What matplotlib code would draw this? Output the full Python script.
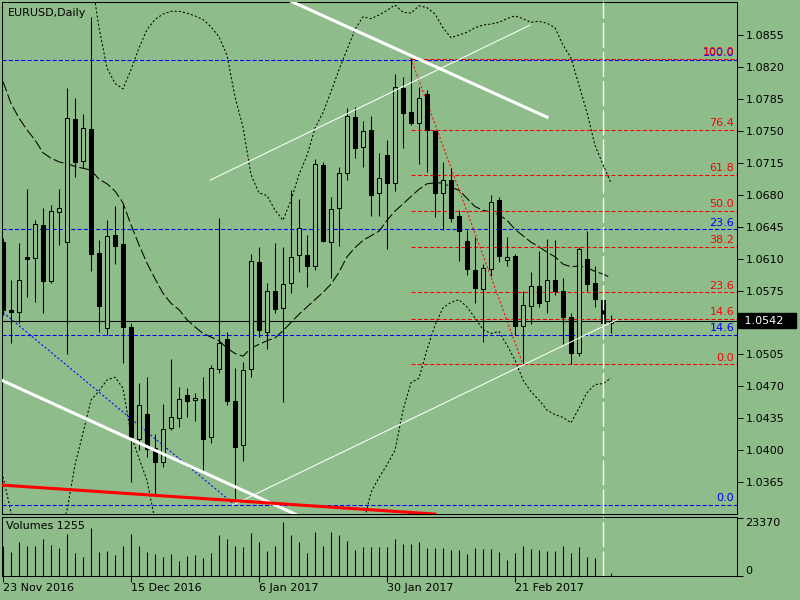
import matplotlib
matplotlib.use("Agg")
import matplotlib.pyplot as plt
import matplotlib.transforms as mtransforms

# EURUSD daily bars, 23 Nov 2016 .. 9 Mar 2017
opens = [
    1.0628, 1.0554, 1.0551, 1.0612, 1.0611, 1.0647, 1.0585, 1.0661, 1.0628, 1.0763,
    1.0717, 1.0752, 1.0616, 1.0534, 1.0636, 1.0626, 1.0535, 1.0412, 1.0440, 1.0402,
    1.0387, 1.0424, 1.0435, 1.0461, 1.0455, 1.0456, 1.0414, 1.0489, 1.0522, 1.0454,
    1.0406, 1.0489, 1.0606, 1.0530, 1.0575, 1.0556, 1.0583, 1.0614, 1.0614, 1.0602,
    1.0713, 1.0628, 1.0665, 1.0704, 1.0765, 1.0732, 1.0751, 1.0682, 1.0724, 1.0693,
    1.0797, 1.0771, 1.0759, 1.0790, 1.0750, 1.0682, 1.0696, 1.0657, 1.0629, 1.0598,
    1.0577, 1.0599, 1.0674, 1.0609, 1.0613, 1.0536, 1.0558, 1.0580, 1.0564, 1.0587,
    1.0575, 1.0546, 1.0506, 1.0610, 1.0583, 1.0565, 1.0539]
highs = [
    1.0633, 1.0587, 1.0627, 1.0686, 1.0652, 1.0665, 1.0669, 1.0686, 1.0797, 1.0786,
    1.0768, 1.0875, 1.0630, 1.0652, 1.0668, 1.0670, 1.0539, 1.0474, 1.0480, 1.0418,
    1.0451, 1.0500, 1.0469, 1.0468, 1.0463, 1.0480, 1.0493, 1.0654, 1.0530, 1.0490,
    1.0497, 1.0615, 1.0623, 1.0583, 1.0627, 1.0623, 1.0685, 1.0675, 1.0636, 1.0719,
    1.0716, 1.0677, 1.0710, 1.0775, 1.0776, 1.0761, 1.0766, 1.0726, 1.0740, 1.0812,
    1.0809, 1.0830, 1.0798, 1.0795, 1.0751, 1.0716, 1.0709, 1.0663, 1.0641, 1.0634,
    1.0604, 1.0680, 1.0677, 1.0634, 1.0615, 1.0574, 1.0595, 1.0618, 1.0632, 1.0630,
    1.0589, 1.0550, 1.0623, 1.0640, 1.0602, 1.0573, 1.0548]
lows = [
    1.0548, 1.0518, 1.0539, 1.0568, 1.0562, 1.0550, 1.0583, 1.0625, 1.0505, 1.0699,
    1.0709, 1.0596, 1.0530, 1.0526, 1.0604, 1.0496, 1.0365, 1.0400, 1.0393, 1.0350,
    1.0382, 1.0422, 1.0425, 1.0436, 1.0432, 1.0375, 1.0408, 1.0485, 1.0450, 1.0345,
    1.0388, 1.0480, 1.0524, 1.0511, 1.0550, 1.0453, 1.0572, 1.0595, 1.0579, 1.0598,
    1.0628, 1.0589, 1.0624, 1.0696, 1.0720, 1.0710, 1.0657, 1.0657, 1.0621, 1.0684,
    1.0731, 1.0756, 1.0714, 1.0705, 1.0656, 1.0641, 1.0650, 1.0607, 1.0592, 1.0561,
    1.0519, 1.0591, 1.0606, 1.0602, 1.0526, 1.0494, 1.0538, 1.0557, 1.0550, 1.0570,
    1.0516, 1.0494, 1.0503, 1.0575, 1.0557, 1.0534, 1.0528]
closes = [
    1.0554, 1.0552, 1.0587, 1.0610, 1.0648, 1.0585, 1.0662, 1.0665, 1.0764, 1.0716,
    1.0753, 1.0615, 1.0558, 1.0635, 1.0624, 1.0535, 1.0414, 1.0450, 1.0401, 1.0387,
    1.0423, 1.0436, 1.0456, 1.0454, 1.0457, 1.0412, 1.0490, 1.0518, 1.0454, 1.0404,
    1.0488, 1.0607, 1.0532, 1.0574, 1.0555, 1.0582, 1.0612, 1.0644, 1.0602, 1.0714,
    1.0629, 1.0664, 1.0704, 1.0766, 1.0731, 1.0750, 1.0680, 1.0698, 1.0693, 1.0798,
    1.0770, 1.0759, 1.0786, 1.0751, 1.0682, 1.0696, 1.0654, 1.0640, 1.0599, 1.0578,
    1.0600, 1.0672, 1.0613, 1.0612, 1.0536, 1.0559, 1.0580, 1.0561, 1.0587, 1.0574,
    1.0546, 1.0507, 1.0620, 1.0582, 1.0566, 1.0539, 1.0542]
volumes = [
    12090, 9790, 13700, 12090, 12090, 14910, 12490, 11280, 16930, 9270,
    7660, 19220, 9670, 10080, 8460, 12090, 16930, 12090, 9670, 8870,
    7660, 8870, 6050, 8060, 8460, 7250, 9270, 16520, 14910, 12090,
    11690, 17330, 13700, 10080, 12090, 21760, 16520, 13700, 9270, 17730,
    12090, 17730, 16520, 14100, 10480, 11690, 11690, 11690, 11690, 14910,
    12900, 12900, 13700, 11280, 11280, 11280, 10480, 10480, 8870, 11280,
    10880, 10880, 9670, 6450, 9270, 12090, 10880, 10480, 10080, 10080,
    12090, 9270, 11690, 7660, 7250, 8460, 1255]

# Bollinger bands
bb_upper = [
    1.1010, 1.1000, 1.0990, 1.0980, 1.0975, 1.0965, 1.0955, 1.0950, 1.0945, 1.0940,
    1.0935, 1.0921, 1.0863, 1.0819, 1.0802, 1.0796, 1.0817, 1.0841, 1.0861, 1.0872,
    1.0878, 1.0881, 1.0881, 1.0879, 1.0876, 1.0872, 1.0864, 1.0853, 1.0833, 1.0787,
    1.0754, 1.0702, 1.0682, 1.0679, 1.0663, 1.0652, 1.0674, 1.0702, 1.0723, 1.0753,
    1.0770, 1.0793, 1.0817, 1.0839, 1.0861, 1.0875, 1.0873, 1.0877, 1.0882, 1.0888,
    1.0880, 1.0879, 1.0887, 1.0885, 1.0878, 1.0863, 1.0852, 1.0855, 1.0858, 1.0863,
    1.0866, 1.0867, 1.0869, 1.0873, 1.0876, 1.0873, 1.0869, 1.0870, 1.0868, 1.0863,
    1.0844, 1.0830, 1.0800, 1.0770, 1.0734, 1.0713, 1.0693]
bb_mid = [
    1.0804, 1.0780, 1.0764, 1.0751, 1.0740, 1.0726, 1.0720, 1.0716, 1.0714, 1.0711,
    1.0709, 1.0707, 1.0697, 1.0692, 1.0684, 1.0671, 1.0647, 1.0625, 1.0605, 1.0588,
    1.0572, 1.0561, 1.0554, 1.0543, 1.0535, 1.0528, 1.0524, 1.0520, 1.0512, 1.0506,
    1.0503, 1.0512, 1.0516, 1.0520, 1.0523, 1.0531, 1.0540, 1.0549, 1.0557, 1.0565,
    1.0573, 1.0582, 1.0595, 1.0612, 1.0622, 1.0630, 1.0635, 1.0640, 1.0652, 1.0662,
    1.0670, 1.0678, 1.0686, 1.0692, 1.0693, 1.0693, 1.0688, 1.0685, 1.0676, 1.0667,
    1.0663, 1.0661, 1.0658, 1.0652, 1.0642, 1.0635, 1.0628, 1.0623, 1.0617, 1.0612,
    1.0604, 1.0601, 1.0602, 1.0600, 1.0596, 1.0593, 1.0589]
bb_lower = [
    1.0371, 1.0332, 1.0296, 1.0269, 1.0258, 1.0263, 1.0280, 1.0307, 1.0334, 1.0384,
    1.0419, 1.0455, 1.0465, 1.0477, 1.0480, 1.0468, 1.0417, 1.0391, 1.0367, 1.0323,
    1.0290, 1.0285, 1.0282, 1.0280, 1.0280, 1.0278, 1.0276, 1.0278, 1.0280, 1.0282,
    1.0285, 1.0288, 1.0292, 1.0295, 1.0298, 1.0300, 1.0302, 1.0305, 1.0306, 1.0305,
    1.0300, 1.0295, 1.0292, 1.0290, 1.0295, 1.0318, 1.0354, 1.0370, 1.0384, 1.0400,
    1.0444, 1.0474, 1.0479, 1.0510, 1.0537, 1.0556, 1.0562, 1.0565, 1.0557, 1.0545,
    1.0532, 1.0528, 1.0530, 1.0515, 1.0499, 1.0477, 1.0464, 1.0455, 1.0444, 1.0439,
    1.0436, 1.0430, 1.0446, 1.0463, 1.0472, 1.0473, 1.0479]

# Fibonacci levels (red: Feb high -> Feb low, blue: extended rays)
red_fib_levels = [1.0829, 1.0751, 1.0702, 1.0662, 1.0623, 1.0573, 1.0544, 1.0494]
red_fib_labels = ["100.0", "76.4", "61.8", "50.0", "38.2", "23.6", "14.6", "0.0"]
blue_fib_levels = [1.0828, 1.0642, 1.0526, 1.0340]
blue_fib_labels = ["100.0", "23.6", "14.6", "0.0"]

price_ticks = [1.0855, 1.0820, 1.0785, 1.0750, 1.0715, 1.0680, 1.0645, 1.0610,
               1.0575, 1.0540, 1.0505, 1.0470, 1.0435, 1.0400, 1.0365]
price_labels = ["1.0855", "1.0820", "1.0785", "1.0750", "1.0715", "1.0680", "1.0645",
                "1.0610", "1.0575", "", "1.0505", "1.0470", "1.0435", "1.0400", "1.0365"]
date_ticks = [0, 16, 32, 48, 64]
date_labels = ["23 Nov 2016", "15 Dec 2016", "6 Jan 2017", "30 Jan 2017", "21 Feb 2017"]
last_price = 1.0542
vol_max = 23370

BG = "#8fbc8b"
LW = 0.75

fig = plt.figure(figsize=(8, 6), dpi=100, facecolor=BG)
ax = fig.add_axes([2 / 800, 86 / 600, 735 / 800, 512 / 600], facecolor=BG)
axv = fig.add_axes([2 / 800, 24 / 600, 735 / 800, 59 / 600], facecolor=BG)

xs = list(range(len(closes)))
XMIN, XMAX = -0.125, 91.75

# candles
ax.vlines(xs, lows, highs, color="black", lw=LW, zorder=3)
bottoms = [min(o, c) for o, c in zip(opens, closes)]
heights = [max(abs(c - o), 0.00002) for o, c in zip(opens, closes)]
colors = ["black" if c < o else BG for o, c in zip(opens, closes)]
ax.bar(xs, heights, bottom=bottoms, width=0.6, color=colors, edgecolor="black",
       lw=LW, zorder=3.5)

# bollinger bands
ax.plot(xs, bb_upper, color="black", lw=LW, ls=(0, (2, 2)), zorder=2)
ax.plot(xs, bb_lower, color="black", lw=LW, ls=(0, (2, 2)), zorder=2)
ax.plot(xs, bb_mid, color="black", lw=LW, ls=(0, (10, 3)), zorder=2)

# fibonacci
for lev, lab in zip(blue_fib_levels, blue_fib_labels):
    ax.plot([XMIN, XMAX], [lev, lev], color="blue", lw=LW, ls=(0, (4, 2)), zorder=2)
    ax.text(91.4, lev + 0.0002, lab, color="blue", ha="right", va="bottom", size=8, zorder=5)
for lev, lab in zip(red_fib_levels, red_fib_labels):
    ax.plot([51, XMAX], [lev, lev], color="red", lw=LW, ls=(0, (4, 2)), zorder=2)
    ax.text(91.4, lev + 0.0002, lab, color="red", ha="right", va="bottom", size=8, zorder=5)
ax.plot([51, 65], [1.0829, 1.0494], color="red", lw=LW, ls=(0, (2, 2)), zorder=2)
ax.plot([0, 29], [1.0551, 1.0340], color="blue", lw=LW, ls=(0, (2, 2)), zorder=2)

# current price line
ax.axhline(last_price, color="black", lw=LW, zorder=2)

# trend lines / channels
ax.plot([35.5, 68], [1.0894, 1.0765], color="white", lw=2.2, zorder=4)
ax.plot([-0.5, 37], [1.0478, 1.0328], color="white", lw=2.2, zorder=4)
ax.plot([25.9, 65.9], [1.0696, 1.0866], color="white", lw=LW, zorder=4)
ax.plot([28.75, 76.75], [1.0340, 1.0543], color="white", lw=LW, zorder=4)
ax.plot([-0.5, 54], [1.0362, 1.0330], color="red", lw=2.2, zorder=4)

# vertical marker
for a in (ax, axv):
    a.axvline(75, color="white", lw=1.0, ls=(0, (18, 3)), zorder=6)

ax.set_xlim(XMIN, XMAX)
ax.set_ylim(1.03301, 1.08912)
ax.set_xticks([])
ax.yaxis.tick_right()
ax.set_yticks(price_ticks)
ax.set_yticklabels(price_labels)
ax.tick_params(axis="y", length=4, width=LW, pad=2, labelsize=8)

trans = mtransforms.blended_transform_factory(ax.transAxes, ax.transData)
ax.text(1.005, last_price, " " + format(last_price, ".4f") + "   ", transform=trans,
        color="white", ha="left", va="center", size=8, clip_on=False, zorder=10,
        bbox=dict(boxstyle="square,pad=0.2", fc="black", ec="black"))
ax.text(0.008, 0.988, "EURUSD,Daily", transform=ax.transAxes, ha="left", va="top", size=8)

# volumes
axv.vlines(xs, 0, volumes, color="black", lw=LW)
axv.set_xlim(XMIN, XMAX)
axv.set_ylim(0, 23773)
axv.yaxis.tick_right()
axv.set_yticks([0, vol_max])
axv.set_yticklabels(["0", str(vol_max)])
axv.get_yticklabels()[0].set_va("bottom")
axv.get_yticklabels()[1].set_va("top")
axv.tick_params(axis="y", length=4, width=LW, pad=2, labelsize=8)
axv.set_xticks(date_ticks)
axv.set_xticklabels(date_labels)
for t in axv.get_xticklabels():
    t.set_ha("left")
axv.tick_params(axis="x", length=4, width=LW, pad=1, labelsize=8)
axv.text(0.006, 0.93, "Volumes " + str(volumes[-1]), transform=axv.transAxes,
         ha="left", va="top", size=8)

for a in (ax, axv):
    for s in a.spines.values():
        s.set_linewidth(LW)
        s.set_color("black")

fig.savefig("out.png", dpi=100, facecolor=BG)
